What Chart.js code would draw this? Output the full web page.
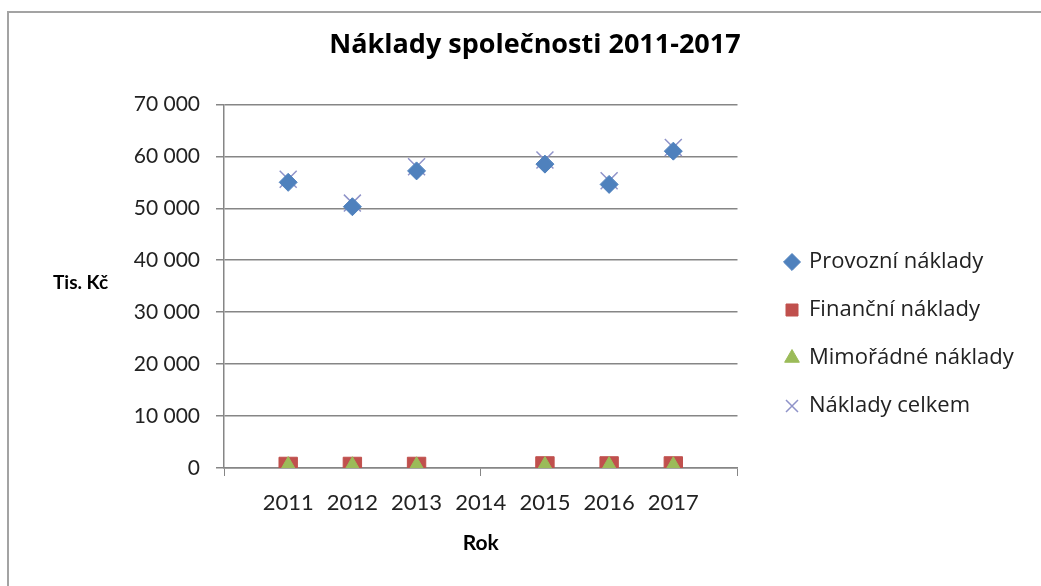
<!DOCTYPE html>
<html>
<head>
<meta charset="utf-8">
<script src="https://cdn.jsdelivr.net/npm/chart.js@4"></script>
<style>
  html, body { margin: 0; padding: 0; background: #fff; }
  #frame { position: absolute; left: 7px; top: 11px; width: 1100px; height: 700px;
           border-left: 2px solid #a3a3a3; border-top: 2px solid #a3a3a3; }
  #wrap { position: absolute; left: 0; top: 0; width: 1041px; height: 586px; }
</style>
</head>
<body>
<div id="frame"></div>
<div id="wrap"><canvas id="Chart"></canvas></div>
<script>
const ctx = document.getElementById('Chart');

// data (tis. Kč), 2014 is missing
var years = [2011, 2012, 2013, 2015, 2016, 2017];
var provozni = [55000, 50300, 57200, 58500, 54600, 61000];
var financni = [300, 300, 300, 400, 400, 400];
var mimoradne = [80, 60, 50, 90, 70, 60];
var celkem = [55600, 51000, 58000, 59300, 55300, 61700];

var yearLabels = ['2011', '2012', '2013', '2014', '2015', '2016', '2017'];
var yTicks = [0, 10000, 20000, 30000, 40000, 50000, 60000, 70000];

var font = "Lato, 'Open Sans', sans-serif";
var font2 = "'Open Sans', sans-serif";

function pts(vals) {
    return vals.map(function(v, i) { return {x: years[i], y: v}; });
}

// horizontal y-axis caption, like the Excel one
var yCaption = {
    id: 'yCaption',
    afterDraw: function(chart) {
        var c = chart.ctx;
        c.save();
        c.font = 'bold 19px ' + font;
        c.fillStyle = '#000';
        c.textAlign = 'left';
        c.textBaseline = 'middle';
        c.fillText('Tis. Kč', 53, 283);
        c.restore();
    }
};

// Excel puts the legend a bit away from the plot, move it there
var legendSpot = {
    id: 'legendSpot',
    afterLayout: function(chart) {
        var lg = chart.legend;
        var h = lg.height;
        lg.left = 760; lg.right = 1041;
        lg.width = lg.right - lg.left;
        lg.top = 225; lg.bottom = lg.top + h;
    }
};

var graphData = {
    type: 'scatter',
    data: {
        datasets: [{
            label: 'Provozní náklady',
            data: pts(provozni),
            pointStyle: 'rectRot',
            pointRadius: 9,
            backgroundColor: '#4F81BD',
            borderColor: '#4F81BD',
            borderWidth: 1,
            order: 0
        }, {
            label: 'Finanční náklady',
            data: pts(financni),
            pointStyle: 'rect',
            pointRadius: 13,
            backgroundColor: '#C0504D',
            borderColor: '#C0504D',
            borderWidth: 1,
            order: 2
        }, {
            label: 'Mimořádné náklady',
            data: pts(mimoradne),
            pointStyle: 'triangle',
            pointRadius: 11,
            backgroundColor: '#9BBB59',
            borderColor: '#9BBB59',
            borderWidth: 1,
            order: 1
        }, {
            label: 'Náklady celkem',
            data: pts(celkem),
            pointStyle: 'crossRot',
            pointRadius: 12,
            backgroundColor: '#8f93c9',
            borderColor: '#8f93c9',
            borderWidth: 1.5,
            order: 3
        }]
    },
    options: {
        responsive: true,
        maintainAspectRatio: false,
        animation: false,
        layout: { padding: { left: 130, right: 101, top: 0, bottom: 0 } },
        plugins: {
            title: {
                display: true,
                text: 'Náklady společnosti 2011-2017',
                color: '#000',
                font: { family: font2, size: 27, weight: 'bold' },
                padding: { top: 29, bottom: 43 }
            },
            legend: {
                position: 'right',
                align: 'start',
                labels: {
                    usePointStyle: true,
                    boxWidth: 12,
                    boxHeight: 12,
                    padding: 26,
                    color: '#222',
                    font: { family: font2, size: 22 },
                    sort: function(a, b) { return a.datasetIndex - b.datasetIndex; }
                }
            },
            tooltip: { enabled: false }
        },
        scales: {
            x: {
                type: 'linear',
                min: 2010,
                max: 2018,
                afterBuildTicks: function(s) {
                    s.ticks = [2010].concat(yearLabels.map(Number), [2018]).map(function(v) { return {value: v}; });
                },
                afterFit: function(s) { s.height = 118; },
                border: { color: '#868686', width: 1.5 },
                grid: {
                    drawOnChartArea: false,
                    tickLength: 8,
                    tickColor: function(c) {
                        var v = c.tick && c.tick.value;
                        return (v === 2010 || v === 2014 || v === 2018) ? '#868686' : 'rgba(0,0,0,0)';
                    }
                },
                ticks: {
                    autoSkip: false,
                    maxRotation: 0,
                    padding: 14,
                    color: '#222',
                    font: { family: font, size: 22 },
                    callback: function(v) { return yearLabels.indexOf(String(v)) >= 0 ? String(v) : ''; }
                },
                title: {
                    display: true,
                    text: 'Rok',
                    color: '#000',
                    font: { family: font, size: 21, weight: 'bold' },
                    padding: { top: 0, bottom: 30 }
                }
            },
            y: {
                min: 0,
                max: 70000,
                afterBuildTicks: function(s) {
                    s.ticks = yTicks.map(function(v) { return {value: v}; });
                },
                afterFit: function(s) { s.width = 94; },
                border: { color: '#868686', width: 1.5 },
                grid: { color: '#868686', lineWidth: 1.5, tickLength: 8 },
                ticks: {
                    padding: 16,
                    color: '#222',
                    font: { family: font, size: 21 },
                    callback: function(v) { return v === 0 ? '0' : Math.floor(v / 1000) + ' 000'; }
                }
            }
        }
    },
    plugins: [yCaption, legendSpot]
};

var myChart = new Chart(ctx, graphData);
</script>
</body>
</html>
